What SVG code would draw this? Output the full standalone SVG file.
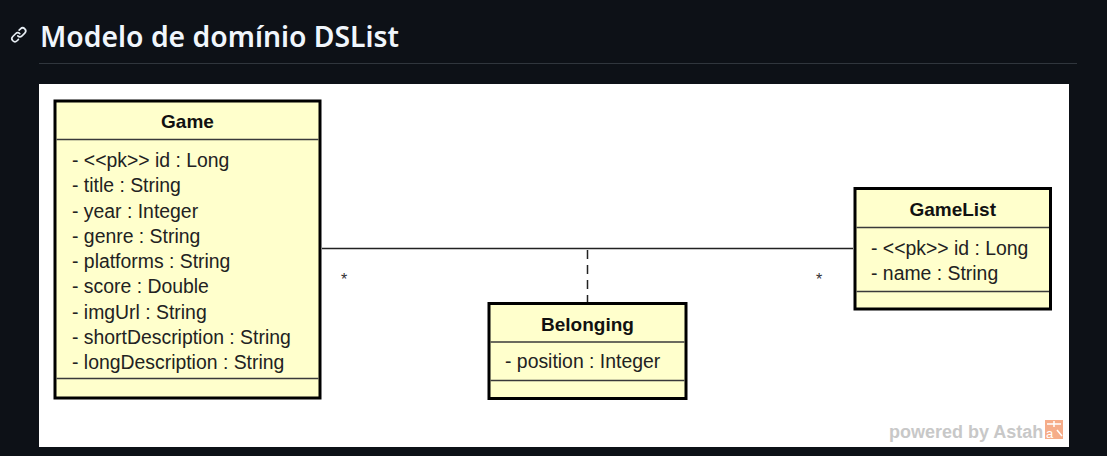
<svg xmlns="http://www.w3.org/2000/svg" width="1107" height="456" viewBox="0 0 1107 456">
<style>
.box{fill:#ffffcc;stroke:#000;stroke-width:3}
.sep{stroke:#3a3a3a;stroke-width:1.5}
.title{font-family:"Liberation Sans",Arial,sans-serif;font-weight:bold;font-size:19px;fill:#111;text-anchor:middle}
.attr{font-family:"Liberation Sans",Arial,sans-serif;font-size:19.4px;fill:#222}
.mult{font-family:"Liberation Sans",Arial,sans-serif;font-size:16px;fill:#333}
.conn{stroke:#222;stroke-width:1.5;fill:none}
</style>
<rect x="0" y="0" width="1107" height="456" fill="#0d1117"/>
<g id="heading">
<path transform="translate(10,26) scale(1.1)" fill="#e6edf3" d="m7.775 3.275 1.25-1.25a3.5 3.5 0 1 1 4.950 4.950l-2.5 2.5a3.5 3.5 0 0 1-4.950 0 .751.751 0 0 1 .018-1.042.751.751 0 0 1 1.042-.018 1.998 1.998 0 0 0 2.830 0l2.5-2.5a2.002 2.002 0 0 0-2.830-2.830l-1.250 1.250a.751.751 0 0 1-1.042-.018.751.751 0 0 1-.018-1.042Zm-4.690 9.640a1.998 1.998 0 0 0 2.830 0l1.250-1.250a.751.751 0 0 1 1.042.018.751.751 0 0 1 .018 1.042l-1.250 1.250a3.5 3.5 0 1 1-4.950-4.950l2.5-2.5a3.5 3.5 0 0 1 4.950 0 .751.751 0 0 1-.018 1.042.751.751 0 0 1-1.042.018 1.998 1.998 0 0 0-2.830 0l-2.5 2.5a1.998 1.998 0 0 0 0 2.830Z"/>
<text x="40" y="47" font-family="'Noto Sans','Open Sans',sans-serif" font-weight="600" font-size="28.5" fill="#f0f6fc" textLength="359" lengthAdjust="spacingAndGlyphs">Modelo de domínio DSList</text>
<line x1="39" y1="63.5" x2="1077" y2="63.5" stroke="#30363d" stroke-width="1"/>
</g>
<rect x="39" y="84" width="1030" height="363" fill="#ffffff"/>
<g id="connectors">
<line class="conn" x1="322" y1="248.5" x2="853" y2="248.5"/>
<line class="conn" x1="587.5" y1="250" x2="587.5" y2="302" stroke-dasharray="9,6"/>
<text class="mult" x="341" y="285">*</text>
<text class="mult" x="816" y="285">*</text>
</g>
<g id="Game">
<rect class="box" x="55" y="101" width="265" height="297"/>
<line class="sep" x1="56.5" y1="139.5" x2="318.5" y2="139.5"/>
<line class="sep" x1="56.5" y1="378.5" x2="318.5" y2="378.5"/>
<text class="title" x="187.5" y="128">Game</text>
<text class="attr" x="72" y="167">- &lt;&lt;pk&gt;&gt; id : Long</text>
<text class="attr" x="72" y="192.25">- title : String</text>
<text class="attr" x="72" y="217.5">- year : Integer</text>
<text class="attr" x="72" y="242.75">- genre : String</text>
<text class="attr" x="72" y="268">- platforms : String</text>
<text class="attr" x="72" y="293.25">- score : Double</text>
<text class="attr" x="72" y="318.5">- imgUrl : String</text>
<text class="attr" x="72" y="343.75">- shortDescription : String</text>
<text class="attr" x="72" y="369">- longDescription : String</text>
</g>
<g id="GameList">
<rect class="box" x="855" y="188.5" width="195.5" height="120.5"/>
<line class="sep" x1="856.5" y1="227.5" x2="1049" y2="227.5"/>
<line class="sep" x1="856.5" y1="291.5" x2="1049" y2="291.5"/>
<text class="title" x="952.7" y="216">GameList</text>
<text class="attr" x="871" y="255">- &lt;&lt;pk&gt;&gt; id : Long</text>
<text class="attr" x="871" y="280">- name : String</text>
</g>
<g id="Belonging">
<rect class="box" x="489" y="303.5" width="197" height="95"/>
<line class="sep" x1="490.5" y1="342" x2="684.5" y2="342"/>
<line class="sep" x1="490.5" y1="380.5" x2="684.5" y2="380.5"/>
<text class="title" x="587.5" y="330.5">Belonging</text>
<text class="attr" x="505" y="368">- position : Integer</text>
</g>
<g id="watermark">
<text x="889" y="438" font-family="'Liberation Sans',Arial,sans-serif" font-weight="bold" font-size="18" fill="#c8c8c8">powered by Astah</text>
<rect x="1045" y="420" width="18" height="19" fill="#f6ad8a"/>
<path d="M1054 421v6M1047 424h14M1057 430l5 6" stroke="#fff" stroke-width="1.5" fill="none"/>
<text x="1046" y="438" font-family="'Liberation Sans',Arial,sans-serif" font-size="13" fill="#fff">a</text>
</g>
</svg>
